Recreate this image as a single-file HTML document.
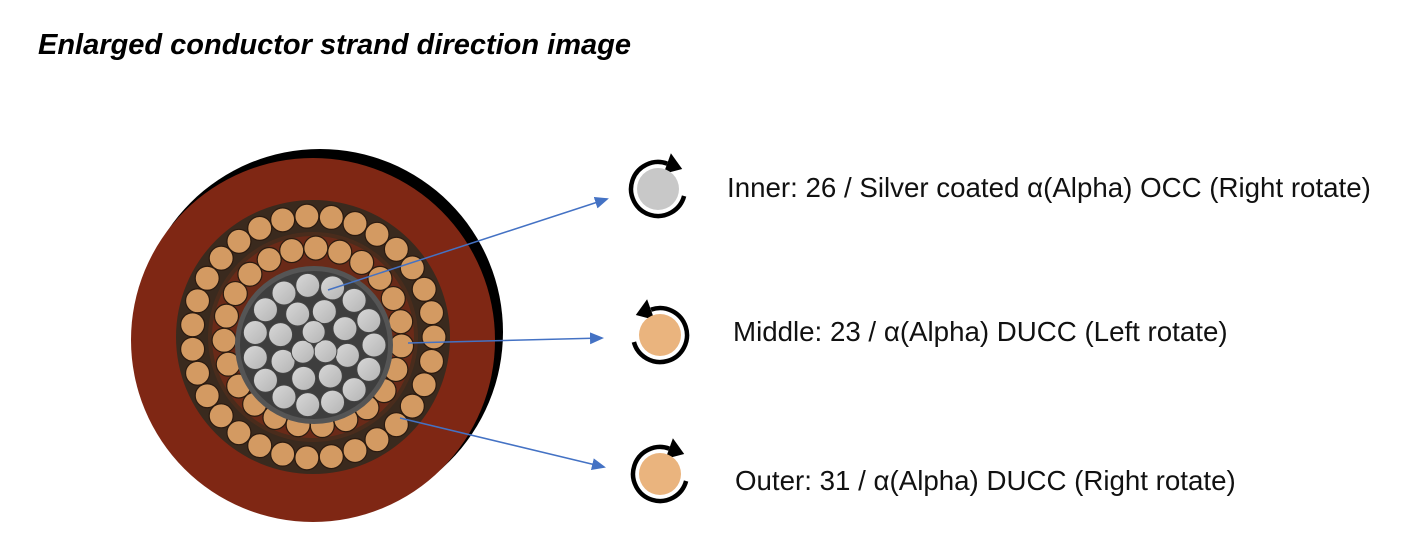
<!DOCTYPE html>
<html><head><meta charset="utf-8"><style>
body{margin:0;background:#fff;width:1408px;height:552px;overflow:hidden;font-family:"Liberation Sans",sans-serif}
</style></head><body>
<svg width="1408" height="552" xmlns="http://www.w3.org/2000/svg">
<defs>
<marker id="ah" markerWidth="14" markerHeight="12" refX="12" refY="6" orient="auto" markerUnits="userSpaceOnUse"><path d="M0,0 L14,6 L0,12 z" fill="#4472c4"/></marker>
<linearGradient id="sil" x1="0" y1="0" x2="1" y2="1"><stop offset="0" stop-color="#d8d8d8"/><stop offset="1" stop-color="#b4b4b4"/></linearGradient>
</defs>
<text x="38" y="54" font-size="29" font-weight="bold" font-style="italic" font-family="Liberation Sans, sans-serif">Enlarged conductor strand direction image</text>
<circle cx="320" cy="332" r="183" fill="#000"/>
<circle cx="313" cy="340" r="182" fill="#7f2714"/>
<circle cx="313" cy="337" r="137" fill="#3a2a1e"/>
<g id="outer" fill="#d39a62" stroke="#2a1a10" stroke-width="1.2"></g>
<circle cx="313" cy="337" r="105" fill="#4a2c1c"/>
<circle cx="313" cy="337" r="101" fill="#6a2a18"/>
<g id="mid" fill="#d39a62" stroke="#2a1a10" stroke-width="1.2"></g>
<circle cx="314" cy="345" r="79" fill="#555"/>
<circle cx="314" cy="345" r="74" fill="#3e3e3e"/>
<g id="inn" fill="url(#sil)" stroke="#444" stroke-width="1"></g>
<line x1="328" y1="290" x2="607" y2="199" stroke="#4472c4" stroke-width="1.5" marker-end="url(#ah)"/>
<line x1="408" y1="343" x2="602" y2="338" stroke="#4472c4" stroke-width="1.5" marker-end="url(#ah)"/>
<line x1="400" y1="418" x2="604" y2="467" stroke="#4472c4" stroke-width="1.5" marker-end="url(#ah)"/>
<g fill="none" stroke="#000" stroke-width="4.5">
<path d="M667.2,163.6 A27,27 0 1 0 684.1,196"/>
<path d="M651,309.6 A27,27 0 1 1 633.9,342"/>
<path d="M669.2,448.6 A27,27 0 1 0 686.1,481"/>
</g>
<path d="M670.9,153.3 L663.5,173.9 L682.2,169 z" fill="#000"/>
<path d="M647.1,299.3 L654.5,319.9 L635.8,315 z" fill="#000"/>
<path d="M672.9,438.3 L665.5,458.9 L684.2,454 z" fill="#000"/>
<circle cx="658" cy="189" r="21" fill="#c8c8c8"/>
<circle cx="660" cy="335" r="21" fill="#eab47e"/>
<circle cx="660" cy="474" r="21" fill="#eab47e"/>
<g font-size="27.7" fill="#111" font-family="Liberation Sans, sans-serif">
<text x="727" y="197">Inner: 26 / Silver coated α(Alpha) OCC (Right rotate)</text>
<text x="733" y="341">Middle: 23 / α(Alpha) DUCC (Left rotate)</text>
<text x="735" y="490">Outer: 31 / α(Alpha) DUCC (Right rotate)</text>
</g>
</svg>
<script>
const ns="http://www.w3.org/2000/svg";
function ring(id,cx,cy,R,n,r,off){const g=document.getElementById(id);for(let i=0;i<n;i++){const a=off+i*2*Math.PI/n;const c=document.createElementNS(ns,"circle");c.setAttribute("cx",cx+R*Math.cos(a));c.setAttribute("cy",cy+R*Math.sin(a));c.setAttribute("r",r);g.appendChild(c);}}
ring("outer",313,337,121,31,12,0);
ring("mid",313,337,89,23,12,0.1);
ring("inn",314,345,60,15,12,0);
ring("inn",314,345,35,8,12,0.3);
ring("inn",314,345,13,3,11.5,0.5);
</script>
</body></html>
